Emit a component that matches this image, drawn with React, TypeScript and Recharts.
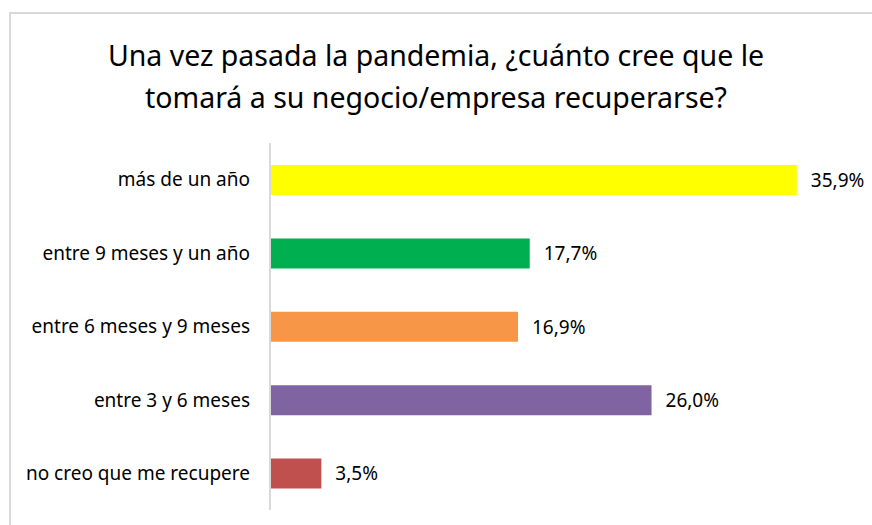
import { BarChart, Bar, XAxis, YAxis, Cell, LabelList } from 'recharts';

const categories = [
  'más de un año',
  'entre 9 meses y un año',
  'entre 6 meses y 9 meses',
  'entre 3 y 6 meses',
  'no creo que me recupere',
];
const values = [35.9, 17.7, 16.9, 26.0, 3.5];
const colors = ['#FFFF00', '#00B050', '#F79646', '#8064A2', '#C0504D'];

const data = categories.map((name, i) => ({ name, value: values[i] }));

const font = '"Noto Sans", sans-serif';

export default function App() {
  return (
    <div style={{ position: 'fixed', left: 0, top: 0, width: 872, height: 525, overflow: 'hidden', background: '#fff' }}>
      <div
        style={{
          position: 'absolute',
          left: 9,
          top: 12,
          width: 900,
          height: 540,
          border: '2px solid #d9d9d9',
        }}
      />
      <div
        style={{
          position: 'absolute',
          left: 0,
          top: 34,
          width: 872,
          textAlign: 'center',
          fontFamily: font,
          fontSize: 28.5,
          lineHeight: '42px',
          color: '#000',
        }}
      >
        Una vez pasada la pandemia, ¿cuánto cree que le
        <br />
        tomará a su negocio/empresa recuperarse?
      </div>
      <div style={{ position: 'absolute', left: 0, top: 0 }}>
        <BarChart
          width={872}
          height={525}
          data={data}
          layout="vertical"
          margin={{ top: 143, right: 15, bottom: 15, left: 0 }}
        >
          <XAxis type="number" domain={[0, 40]} hide />
          <YAxis
            type="category"
            dataKey="name"
            width={270}
            tickLine={false}
            tickSize={0}
            tickMargin={20}
            axisLine={{ stroke: '#d9d9d9', strokeWidth: 2 }}
            tick={{ fill: '#000', fontSize: 19, fontFamily: font }}
          />
          <Bar dataKey="value" barSize={30} isAnimationActive={false}>
            {data.map((d, i) => (
              <Cell key={d.name} fill={colors[i]} />
            ))}
            <LabelList
              dataKey="value"
              position="right"
              offset={14}
              formatter={(v: number) => `${v.toFixed(1).replace('.', ',')}%`}
              style={{ fill: '#000', fontSize: 19, fontFamily: font }}
            />
          </Bar>
        </BarChart>
      </div>
    </div>
  );
}
